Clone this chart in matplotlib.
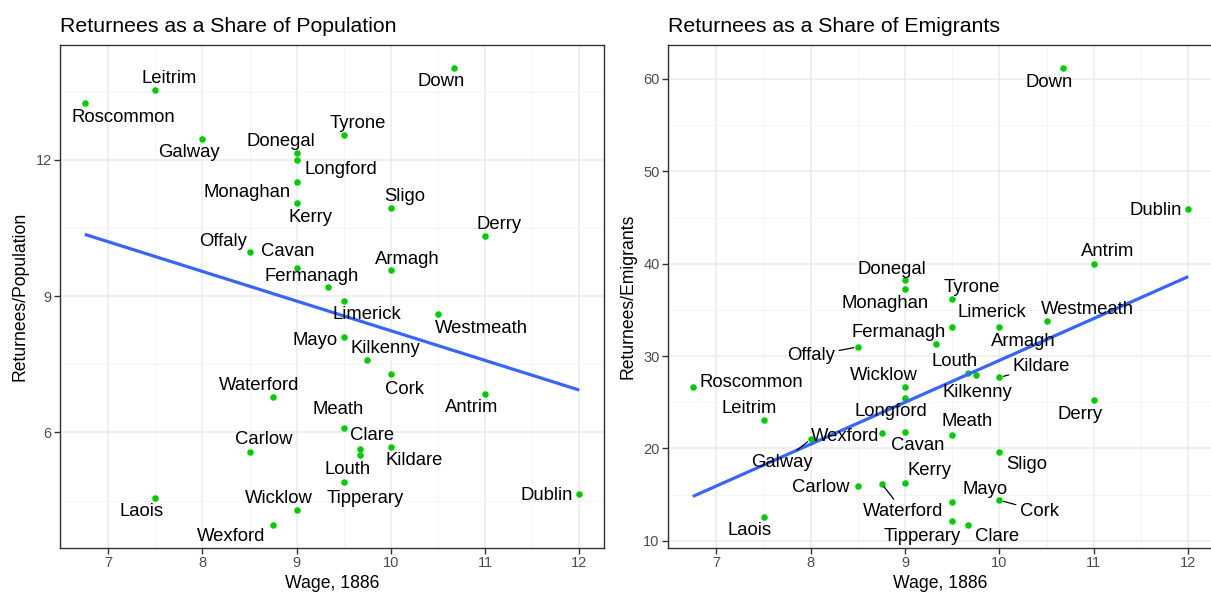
import numpy as np
import matplotlib
matplotlib.use("Agg")
import matplotlib.pyplot as plt

# ---------------- data ----------------
counties = ["Antrim", "Armagh", "Carlow", "Cavan", "Clare", "Cork", "Derry", "Donegal",
            "Down", "Dublin", "Fermanagh", "Galway", "Kerry", "Kildare", "Kilkenny",
            "Laois", "Leitrim", "Limerick", "Longford", "Louth", "Mayo", "Meath",
            "Monaghan", "Offaly", "Roscommon", "Sligo", "Tipperary", "Tyrone",
            "Waterford", "Westmeath", "Wexford", "Wicklow"]
wage = [11, 10, 8.5, 9, 9.67, 10, 11, 9,
        10.67, 12, 9.33, 8, 9, 10, 9.75,
        7.5, 7.5, 9.5, 9, 9.67, 9.5, 9.5,
        9, 8.5, 6.75, 10, 9.5, 9.5,
        8.75, 10.5, 8.75, 9]
ret_pop = [6.85, 9.58, 5.58, 9.62, 5.63, 7.28, 10.32, 12.15,
           14.02, 4.64, 9.19, 12.45, 11.04, 5.69, 7.59,
           4.56, 13.53, 8.90, 11.99, 5.50, 8.09, 6.09,
           11.52, 9.98, 13.24, 10.93, 4.90, 12.54,
           6.78, 8.61, 3.96, 4.30]
ret_emig = [40.0, 33.1, 15.97, 21.8, 11.7, 14.4, 25.3, 38.2,
            61.2, 45.9, 31.35, 21.0, 16.3, 27.7, 27.9,
            12.6, 23.1, 33.2, 25.5, 28.2, 14.2, 21.5,
            37.3, 31.0, 26.7, 19.6, 12.2, 36.2,
            16.2, 33.8, 21.7, 26.7]

x_ticks = [7, 8, 9, 10, 11, 12]
y_ticks_pop = [6, 9, 12]
y_ticks_emig = [10, 20, 30, 40, 50, 60]

titles = ["Returnees as a Share of Population", "Returnees as a Share of Emigrants"]
ylabels = ["Returnees/Population", "Returnees/Emigrants"]
xlabel = "Wage, 1886"

# ---------------- label layout (pixel offsets: dx right, dy up; segment flag) ----------------
offs_pop = {
    "Roscommon": (38.7, -14.4), "Leitrim": (14, 11.7), "Galway": (-14, -13),
    "Donegal": (-15.5, 11.6), "Longford": (44.5, -9.7), "Monaghan": (-50, -10.7),
    "Kerry": (14, -14), "Tyrone": (14.4, 11.6), "Offaly": (-27, 10),
    "Cavan": (-9.3, 16), "Fermanagh": (-16, 11), "Down": (-13, -14),
    "Sligo": (14, 11.5), "Derry": (14.4, 11.3), "Armagh": (16.7, 10),
    "Limerick": (23, -14.3), "Westmeath": (43.5, -14.3), "Kilkenny": (18.3, 11.3),
    "Mayo": (-29, -3), "Cork": (14, -15), "Antrim": (-13.6, -13.8),
    "Waterford": (-14.5, 11.5), "Meath": (-5.3, 19), "Clare": (12.7, 13.8),
    "Kildare": (23, -14), "Louth": (-12.6, -14.3), "Tipperary": (21.4, -16),
    "Dublin": (-33, -1.3), "Carlow": (13.7, 11.6), "Wicklow": (-18, 11.5),
    "Laois": (-14, -13.5), "Wexford": (-42, -11.8),
}
offs_emig = {
    "Down": (-13.6, -14.3), "Dublin": (-33, -1), "Antrim": (14.3, 12),
    "Tyrone": (19.5, 11), "Donegal": (-13, 11), "Monaghan": (-19.7, -15),
    "Fermanagh": (-38, 11), "Offaly": (-47, -9), "Roscommon": (59, 3.8),
    "Wicklow": (-21, 11), "Longford": (-14, -13.5), "Leitrim": (-14, 11),
    "Wexford": (-36.4, -3.9), "Galway": (-29, -23), "Cavan": (13, -14),
    "Carlow": (-37.6, -1.8), "Kerry": (24, 12), "Waterford": (22, -28),
    "Laois": (-14, -14), "Tipperary": (-30, -16), "Limerick": (39.5, 14),
    "Westmeath": (41, 11.5), "Armagh": (24, -14), "Louth": (-14, 11),
    "Kilkenny": (1, -17), "Kildare": (42, 11), "Derry": (-13.5, -15),
    "Meath": (15, 13), "Sligo": (27, -12), "Mayo": (33, 12.5),
    "Cork": (40, -11), "Clare": (29, -11.5),
}
segments_emig = {"Offaly", "Galway", "Waterford", "Kildare", "Cork"}

# ---------------- style ----------------
plt.rcParams["font.family"] = ["Liberation Sans", "DejaVu Sans"]
W, H = 1211, 594
fig = plt.figure(figsize=(W / 100, H / 100), dpi=100)

panels = [
    dict(rect=[60 / W, 46 / H, 544 / W, 503 / H], y=ret_pop, yt=y_ticks_pop,
         offs=offs_pop, segs=set()),
    dict(rect=[668 / W, 46 / H, 545 / W, 503 / H], y=ret_emig, yt=y_ticks_emig,
         offs=offs_emig, segs=segments_emig),
]

wage_arr = np.array(wage, dtype=float)
for i, p in enumerate(panels):
    ax = fig.add_axes(p["rect"])
    y = np.array(p["y"], dtype=float)

    ax.set_xticks(x_ticks)
    ax.set_yticks(p["yt"])
    xt = np.array(x_ticks, dtype=float)
    ax.set_xticks(np.arange(xt[0] - 0.5, xt[-1] + 1.0, 1.0), minor=True)
    yt = np.array(p["yt"], dtype=float)
    step = yt[1] - yt[0]
    ax.set_yticks(np.arange(yt[0] - step / 2, yt[-1] + step, step), minor=True)

    # ggplot-like expansion (5%) -- set after ticks so ticks don't widen limits
    xr = wage_arr.max() - wage_arr.min()
    yr = y.max() - y.min()
    ax.set_xlim(wage_arr.min() - 0.05 * xr, wage_arr.max() + 0.05 * xr)
    ax.set_ylim(y.min() - 0.05 * yr, y.max() + 0.05 * yr)

    ax.tick_params(which="minor", length=0)
    ax.tick_params(which="major", length=4, width=1, color="#333333",
                   labelsize=10.5, labelcolor="#4D4D4D", pad=2)
    ax.grid(which="major", color="#EBEBEB", linewidth=1.1)
    ax.grid(which="minor", color="#F2F2F2", linewidth=0.6)
    ax.set_axisbelow(True)
    for s in ax.spines.values():
        s.set_color("#333333")
        s.set_linewidth(1.0)

    ax.scatter(wage_arr, y, s=22, color="#00CD00", zorder=3, linewidths=0)

    # OLS fit line (geom_smooth method = "lm")
    b1, b0 = np.polyfit(wage_arr, y, 1)
    xx = np.array([wage_arr.min(), wage_arr.max()])
    ax.plot(xx, b0 + b1 * xx, color="#3366FF", linewidth=2.3, zorder=4,
            solid_capstyle="butt")

    for name, xv, yv in zip(counties, wage_arr, y):
        dx, dy = p["offs"][name]
        kw = {}
        if name in p["segs"]:
            kw["arrowprops"] = dict(arrowstyle="-", color="black", lw=0.9,
                                    shrinkA=1, shrinkB=3)
        ax.annotate(name, (xv, yv), xytext=(dx, dy), textcoords="offset pixels",
                    ha="center", va="center", fontsize=13.3, color="black",
                    zorder=5, annotation_clip=False, **kw)

    ax.set_xlabel(xlabel, fontsize=12.7, labelpad=3)
    ax.set_ylabel(ylabels[i], fontsize=12.7, labelpad=5)
    ax.set_title(titles[i], fontsize=15.3, loc="left", pad=9)

fig.savefig("out.png", dpi=100)
